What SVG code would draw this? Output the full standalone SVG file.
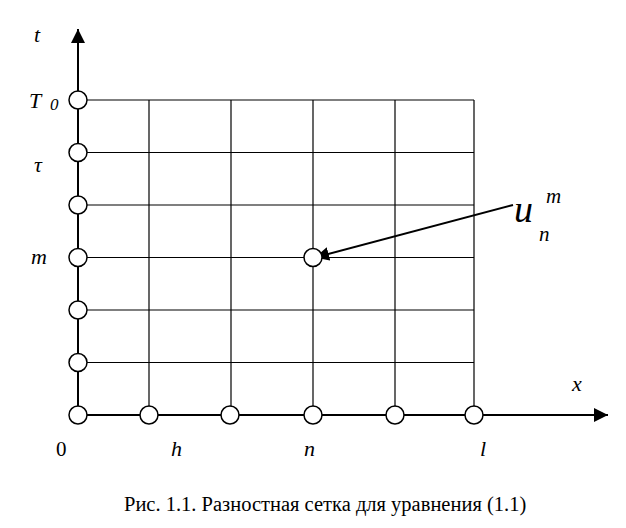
<svg xmlns="http://www.w3.org/2000/svg" width="626" height="528" viewBox="0 0 626 528">
<style>
.grid{stroke:#000;stroke-width:1.2;fill:none}
.axis{stroke:#000;stroke-width:2;fill:none}
.node{fill:#fff;stroke:#000;stroke-width:1.5}
</style>
<defs>
<marker id="ah2" markerWidth="14" markerHeight="14" viewBox="0 0 14 14" refX="14" refY="7" orient="auto" markerUnits="userSpaceOnUse">
<path d="M0,0 L14,7 L0,14 Z" fill="#000"/>
</marker>
</defs>
<rect width="626" height="528" fill="#fff"/>
<g id="connectors">
<g class="grid">
<line x1="78" y1="100" x2="474" y2="100"/>
<line x1="78" y1="152.5" x2="474" y2="152.5"/>
<line x1="78" y1="205" x2="474" y2="205"/>
<line x1="78" y1="257.5" x2="474" y2="257.5"/>
<line x1="78" y1="310" x2="474" y2="310"/>
<line x1="78" y1="362.5" x2="474" y2="362.5"/>
<line x1="149" y1="100" x2="149" y2="415"/>
<line x1="231" y1="100" x2="231" y2="415"/>
<line x1="313" y1="100" x2="313" y2="415"/>
<line x1="395" y1="100" x2="395" y2="415"/>
<line x1="474" y1="100" x2="474" y2="415"/>
</g>
<line class="axis" x1="78" y1="415" x2="78" y2="29" marker-end="url(#ah2)"/>
<line class="axis" x1="78" y1="415" x2="608" y2="415" marker-end="url(#ah2)"/>
<line class="axis" x1="513" y1="205" x2="315" y2="257.5" marker-end="url(#ah2)"/>
</g>
<g id="nodes">
<circle class="node" cx="78" cy="100" r="9"/>
<circle class="node" cx="78" cy="152.5" r="9"/>
<circle class="node" cx="78" cy="205" r="9"/>
<circle class="node" cx="78" cy="257.5" r="9"/>
<circle class="node" cx="78" cy="310" r="9"/>
<circle class="node" cx="78" cy="362.5" r="9"/>
<circle class="node" cx="78" cy="415" r="9"/>
<circle class="node" cx="149" cy="415" r="9"/>
<circle class="node" cx="230" cy="415" r="9"/>
<circle class="node" cx="313" cy="415" r="9"/>
<circle class="node" cx="395" cy="415" r="9"/>
<circle class="node" cx="474" cy="415" r="9"/>
<circle id="u-node" class="node" cx="313" cy="257.5" r="9"/>
</g>
<g id="labels" font-family="'Liberation Serif', 'Times New Roman', 'DejaVu Serif', serif" fill="#000">
<g font-style="italic" font-size="22">
<text x="34" y="42">t</text>
<text x="29" y="108">T</text>
<text x="50" y="110" font-size="17">0</text>
<text x="34" y="172">τ</text>
<text x="31" y="264">m</text>
<text x="572" y="391">x</text>
<text x="171" y="456">h</text>
<text x="304" y="456">n</text>
<text x="480" y="456">l</text>
<text x="514" y="222" font-size="38">u</text>
<text x="539" y="241" font-size="21">n</text>
<text x="546" y="203" font-size="21">m</text>
</g>
<text x="56" y="456" font-size="21">0</text>
<text x="124" y="511" font-size="20.5">Рис. 1.1. Разностная сетка для уравнения (1.1)</text>
</g>
</svg>
